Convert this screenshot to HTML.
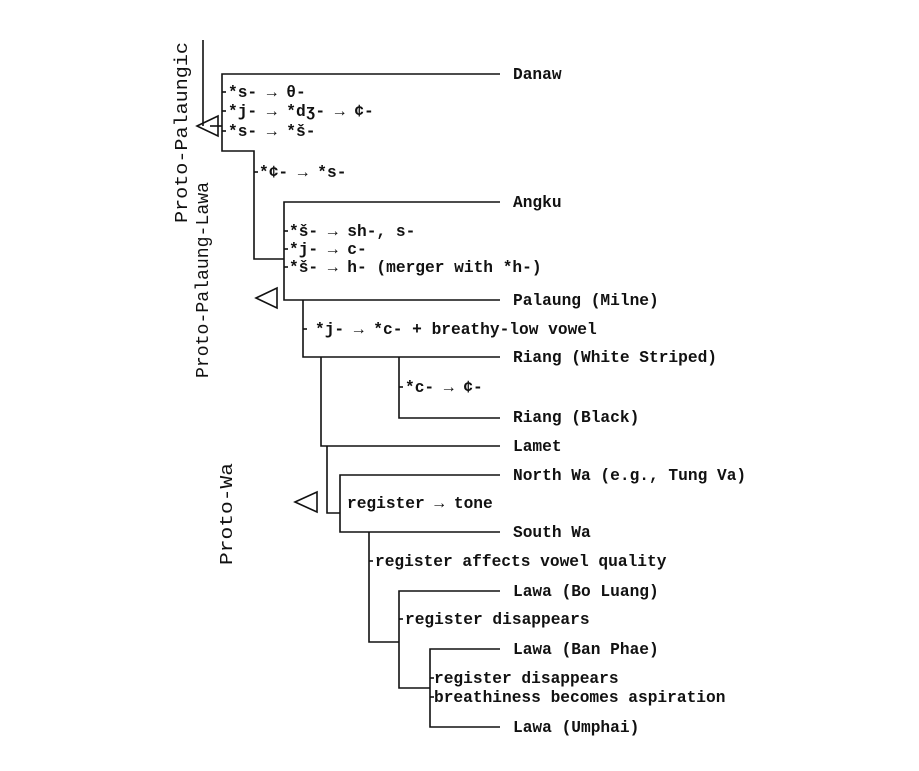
<!DOCTYPE html>
<html><head><meta charset="utf-8"><style>
html,body{margin:0;padding:0;background:#fff;}
svg{display:block;}
text{font-family:"Liberation Mono",monospace;font-size:16.2px;fill:#111;font-weight:bold;}
.r{font-size:18px;font-weight:normal;}
</style></head><body>
<svg width="919" height="771" viewBox="0 0 919 771" xmlns="http://www.w3.org/2000/svg">
<g stroke="#111" stroke-width="1.6" fill="none">
<line x1="203" y1="40" x2="203" y2="126"/>
<polygon points="197,126 218,116 218,136"/>
<line x1="210" y1="126" x2="222" y2="126"/>
<polyline points="500,74 222,74 222,151 254,151 254,259 284,259"/>
<line x1="222" y1="92" x2="226" y2="92"/>
<line x1="222" y1="111" x2="226" y2="111"/>
<line x1="222" y1="131" x2="226" y2="131"/>
<line x1="254" y1="172" x2="258" y2="172"/>
<polyline points="500,202 284,202 284,300 500,300"/>
<line x1="284" y1="231" x2="288" y2="231"/>
<line x1="284" y1="249" x2="288" y2="249"/>
<line x1="284" y1="267" x2="288" y2="267"/>
<polygon points="256,298 277,288 277,308"/>
<polyline points="303,300 303,357 500,357"/>
<line x1="303" y1="329" x2="307" y2="329"/>
<polyline points="321,357 321,446 500,446"/>
<polyline points="399,357 399,418 500,418"/>
<line x1="399" y1="387" x2="403" y2="387"/>
<polyline points="327,446 327,513 340,513"/>
<polyline points="500,475 340,475 340,532 500,532"/>
<polygon points="295,502 317,492 317,512"/>
<polyline points="369,532 369,642 399,642"/>
<line x1="369" y1="561" x2="373" y2="561"/>
<polyline points="500,591 399,591 399,688 430,688"/>
<line x1="399" y1="619" x2="403" y2="619"/>
<polyline points="500,649 430,649 430,727 500,727"/>
<line x1="430" y1="678" x2="434" y2="678"/>
<line x1="430" y1="697" x2="434" y2="697"/>
</g>
<g>
<text x="513" y="79">Danaw</text>
<text x="513" y="207">Angku</text>
<text x="513" y="305">Palaung (Milne)</text>
<text x="513" y="362">Riang (White Striped)</text>
<text x="513" y="422">Riang (Black)</text>
<text x="513" y="451">Lamet</text>
<text x="513" y="480">North Wa (e.g., Tung Va)</text>
<text x="513" y="537">South Wa</text>
<text x="513" y="596">Lawa (Bo Luang)</text>
<text x="513" y="654">Lawa (Ban Phae)</text>
<text x="513" y="732">Lawa (Umphai)</text>

<text x="228" y="97">*s- → θ-</text>
<text x="228" y="116">*j- → *dʒ- → ¢-</text>
<text x="228" y="136">*s- → *š-</text>
<text x="259" y="177">*¢- → *s-</text>
<text x="289" y="236">*š- → sh-, s-</text>
<text x="289" y="254">*j- → c-</text>
<text x="289" y="272">*š- → h- (merger with *h-)</text>
<text x="315" y="334">*j- → *c- + breathy-low vowel</text>
<text x="405" y="392">*c- → ¢-</text>
<text x="347" y="508">register → tone</text>
<text x="375" y="566">register affects vowel quality</text>
<text x="405" y="624">register disappears</text>
<text x="434" y="683">register disappears</text>
<text x="434" y="702">breathiness becomes aspiration</text>

<text class="r" transform="translate(187,223) rotate(-90)" textLength="181" lengthAdjust="spacingAndGlyphs">Proto-Palaungic</text>
<text class="r" transform="translate(208,378) rotate(-90)" textLength="196" lengthAdjust="spacingAndGlyphs">Proto-Palaung-Lawa</text>
<text class="r" transform="translate(232,565) rotate(-90)" textLength="102" lengthAdjust="spacingAndGlyphs">Proto-Wa</text>
</g>
</svg>
</body></html>
